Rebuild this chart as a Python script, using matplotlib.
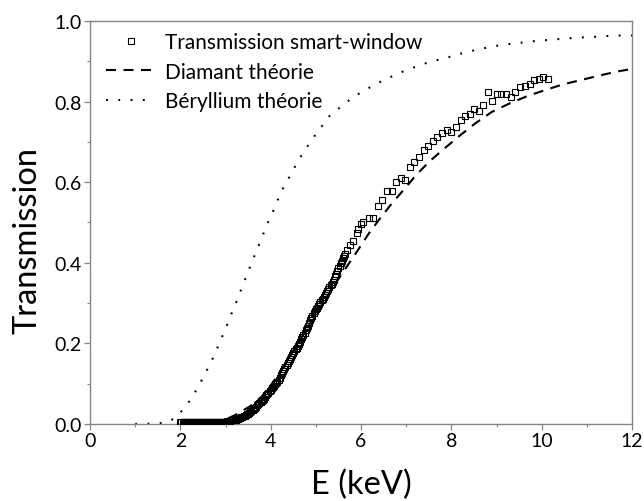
import matplotlib
matplotlib.use("Agg")
import matplotlib.pyplot as plt
from matplotlib.ticker import MultipleLocator

plt.rcParams['font.family'] = ['Lato', 'DejaVu Sans']

# Measured transmission (smart-window)
meas_E = [2.000, 2.025, 2.050, 2.075, 2.100, 2.125, 2.150, 2.175, 2.200, 2.225, 2.250, 2.275,
          2.300, 2.325, 2.350, 2.375, 2.400, 2.425, 2.450, 2.475, 2.500, 2.525, 2.550, 2.575,
          2.600, 2.625, 2.650, 2.675, 2.700, 2.725, 2.750, 2.775, 2.800, 2.825, 2.850, 2.875,
          2.900, 2.925, 2.950, 2.975, 3.000, 3.025, 3.050, 3.075, 3.100, 3.125, 3.150, 3.175,
          3.200, 3.225, 3.250, 3.275, 3.300, 3.325, 3.350, 3.375, 3.400, 3.425, 3.450, 3.475,
          3.500, 3.525, 3.550, 3.575, 3.600, 3.625, 3.650, 3.675, 3.700, 3.725, 3.750, 3.775,
          3.800, 3.825, 3.850, 3.875, 3.900, 3.925, 3.950, 3.975, 4.000, 4.025, 4.050, 4.075,
          4.100, 4.125, 4.150, 4.175, 4.200, 4.225, 4.250, 4.275, 4.300, 4.325, 4.350, 4.375,
          4.400, 4.425, 4.450, 4.475, 4.500, 4.525, 4.550, 4.575, 4.600, 4.625, 4.650, 4.675,
          4.700, 4.725, 4.750, 4.775, 4.800, 4.825, 4.850, 4.875, 4.900, 4.925, 4.950, 4.975,
          5.000, 5.025, 5.050, 5.075, 5.100, 5.125, 5.150, 5.175, 5.200, 5.225, 5.250, 5.275,
          5.300, 5.325, 5.350, 5.375, 5.400, 5.425, 5.450, 5.475, 5.500, 5.525, 5.550, 5.575,
          5.600, 5.625, 5.650,
          5.70, 5.76, 5.83, 5.90, 5.94, 6.00, 6.05, 6.17, 6.27, 6.37,
          6.46, 6.57, 6.68, 6.77, 6.88, 6.97, 7.08, 7.17, 7.28, 7.39, 7.49, 7.60, 7.69, 7.79,
          7.90, 7.99, 8.10, 8.21, 8.30, 8.41, 8.51, 8.62, 8.71, 8.82, 8.91, 9.00, 9.11, 9.22,
          9.32, 9.42, 9.52, 9.63, 9.74, 9.84, 9.95, 10.04, 10.15]
meas_T = [0.004, 0.004, 0.004, 0.004, 0.004, 0.004, 0.004, 0.004, 0.004, 0.004, 0.004, 0.004,
          0.004, 0.004, 0.004, 0.004, 0.004, 0.004, 0.004, 0.004, 0.004, 0.004, 0.004, 0.004,
          0.004, 0.004, 0.004, 0.004, 0.004, 0.004, 0.004, 0.004, 0.005, 0.005, 0.005, 0.005,
          0.005, 0.006, 0.006, 0.006, 0.006, 0.007, 0.007, 0.008, 0.008, 0.009, 0.009, 0.010,
          0.010, 0.011, 0.012, 0.013, 0.014, 0.015, 0.017, 0.018, 0.020, 0.021, 0.023, 0.025,
          0.026, 0.028, 0.030, 0.032, 0.035, 0.037, 0.040, 0.043, 0.046, 0.049, 0.052, 0.054,
          0.057, 0.060, 0.063, 0.067, 0.071, 0.074, 0.078, 0.081, 0.085, 0.089, 0.092, 0.095,
          0.098, 0.101, 0.105, 0.110, 0.115, 0.121, 0.126, 0.132, 0.137, 0.142, 0.147, 0.151,
          0.156, 0.161, 0.166, 0.171, 0.176, 0.181, 0.185, 0.189, 0.193, 0.199, 0.204, 0.210,
          0.215, 0.220, 0.226, 0.232, 0.238, 0.244, 0.250, 0.257, 0.263, 0.269, 0.275, 0.280,
          0.285, 0.289, 0.293, 0.298, 0.302, 0.307, 0.311, 0.316, 0.320, 0.325, 0.329, 0.334,
          0.339, 0.344, 0.348, 0.353, 0.358, 0.366, 0.373, 0.380, 0.387, 0.393, 0.399, 0.405,
          0.411, 0.417, 0.422,
          0.432, 0.443, 0.455, 0.474, 0.485, 0.497, 0.502, 0.511, 0.511, 0.542,
          0.556, 0.579, 0.579, 0.601, 0.611, 0.606, 0.637, 0.649, 0.663, 0.681, 0.689, 0.703,
          0.711, 0.721, 0.730, 0.724, 0.738, 0.755, 0.763, 0.769, 0.782, 0.777, 0.792, 0.825,
          0.801, 0.818, 0.818, 0.820, 0.811, 0.825, 0.836, 0.839, 0.844, 0.853, 0.855, 0.861,
          0.857]

# Diamond theory
dia_E = [2.3, 2.6, 2.8, 3.0, 3.21, 3.56, 3.8, 4.0, 4.3, 4.6, 5.0, 5.3, 5.5, 5.70, 5.94, 6.18, 6.42,
         6.68, 6.96, 7.23, 7.53, 7.85, 8.18, 8.53, 8.89, 9.28, 9.69, 10.09, 10.48, 10.89, 11.29,
         11.69, 12.0]
dia_T = [0.0, 0.002, 0.005, 0.011, 0.022, 0.045, 0.068, 0.095, 0.145, 0.200, 0.272, 0.325, 0.360,
         0.393, 0.433, 0.474, 0.510, 0.547, 0.583, 0.619, 0.653, 0.684, 0.715, 0.746, 0.774, 0.795,
         0.814, 0.829, 0.843, 0.854, 0.865, 0.875, 0.881]

# Beryllium theory
be_E = [1.0, 1.5, 1.77, 1.95, 2.13, 2.28, 2.41, 2.52, 2.64, 2.75, 2.85, 2.95, 3.05, 3.14, 3.24,
        3.33, 3.42, 3.51, 3.61, 3.70, 3.80, 3.89, 3.99, 4.10, 4.19, 4.30, 4.43, 4.55, 4.67, 4.82,
        4.96, 5.3, 5.65, 5.85, 6.07, 6.30, 6.54, 6.77, 7.00, 7.25, 7.48, 7.72, 8.0, 8.3, 8.71,
        8.97, 9.22, 9.47, 9.73, 9.97, 10.23, 10.48, 10.73, 10.98, 11.24, 11.49, 11.74, 12.0]
be_T = [0.0, 0.001, 0.007, 0.022, 0.045, 0.070, 0.095, 0.119, 0.145, 0.170, 0.197, 0.223, 0.250,
        0.276, 0.303, 0.329, 0.355, 0.381, 0.409, 0.434, 0.461, 0.487, 0.513, 0.539, 0.566, 0.591,
        0.616, 0.641, 0.664, 0.690, 0.713, 0.764, 0.796, 0.813, 0.827, 0.842, 0.855, 0.867, 0.878,
        0.888, 0.897, 0.904, 0.912, 0.922, 0.932, 0.938, 0.942, 0.945, 0.949, 0.951, 0.954, 0.956,
        0.958, 0.960, 0.961, 0.963, 0.964, 0.964]

labels = ["Transmission smart-window", "Diamant théorie", "Béryllium théorie"]

fig = plt.figure(figsize=(6.44, 5.02), dpi=100)
ax = fig.add_axes([0.1398, 0.1534, 0.8416, 0.8028])

ax.plot(meas_E, meas_T, linestyle='none', marker='s', markersize=5.0,
        markerfacecolor='none', markeredgecolor='black', markeredgewidth=0.8,
        label=labels[0], zorder=3)
ax.plot(dia_E, dia_T, color='black', linewidth=1.5, dashes=(4.8, 3.6),
        label=labels[1], zorder=2)
ax.plot(be_E, be_T, color='black', linewidth=1.5, dashes=(0.9, 5.0),
        label=labels[2], zorder=2)

ax.set_xlim(0, 12)
ax.set_ylim(0, 1.0)
ax.xaxis.set_major_locator(MultipleLocator(2))
ax.xaxis.set_minor_locator(MultipleLocator(1))
ax.yaxis.set_major_locator(MultipleLocator(0.2))
ax.yaxis.set_minor_locator(MultipleLocator(0.1))
ax.xaxis.set_major_formatter(plt.FuncFormatter(lambda v, p: f"{v:.0f}"))
ax.yaxis.set_major_formatter(plt.FuncFormatter(lambda v, p: f"{v:.1f}"))

grey = '#858585'
for s in ax.spines.values():
    s.set_color(grey)
    s.set_linewidth(1.0)
ax.tick_params(which='both', direction='out', color=grey, labelsize=14, labelcolor='black')
ax.tick_params(which='major', length=4, width=0.9, pad=2)
ax.tick_params(which='minor', length=2.5, width=0.8)

ax.set_xlabel("E (keV)", fontsize=23.5)
ax.set_ylabel("Transmission", fontsize=23.5)
ax.xaxis.set_label_coords(0.5, -0.112)
ax.yaxis.set_label_coords(-0.087, 0.459)

leg = ax.legend(loc='upper left', frameon=False, fontsize=15, handlelength=2.35,
                handletextpad=0.5, labelspacing=0.45, borderaxespad=0.0, borderpad=0.2,
                bbox_to_anchor=(0.022, 0.982))
leg.legend_handles[0].set_markersize(4.2)

fig.savefig("out.png", dpi=100)
